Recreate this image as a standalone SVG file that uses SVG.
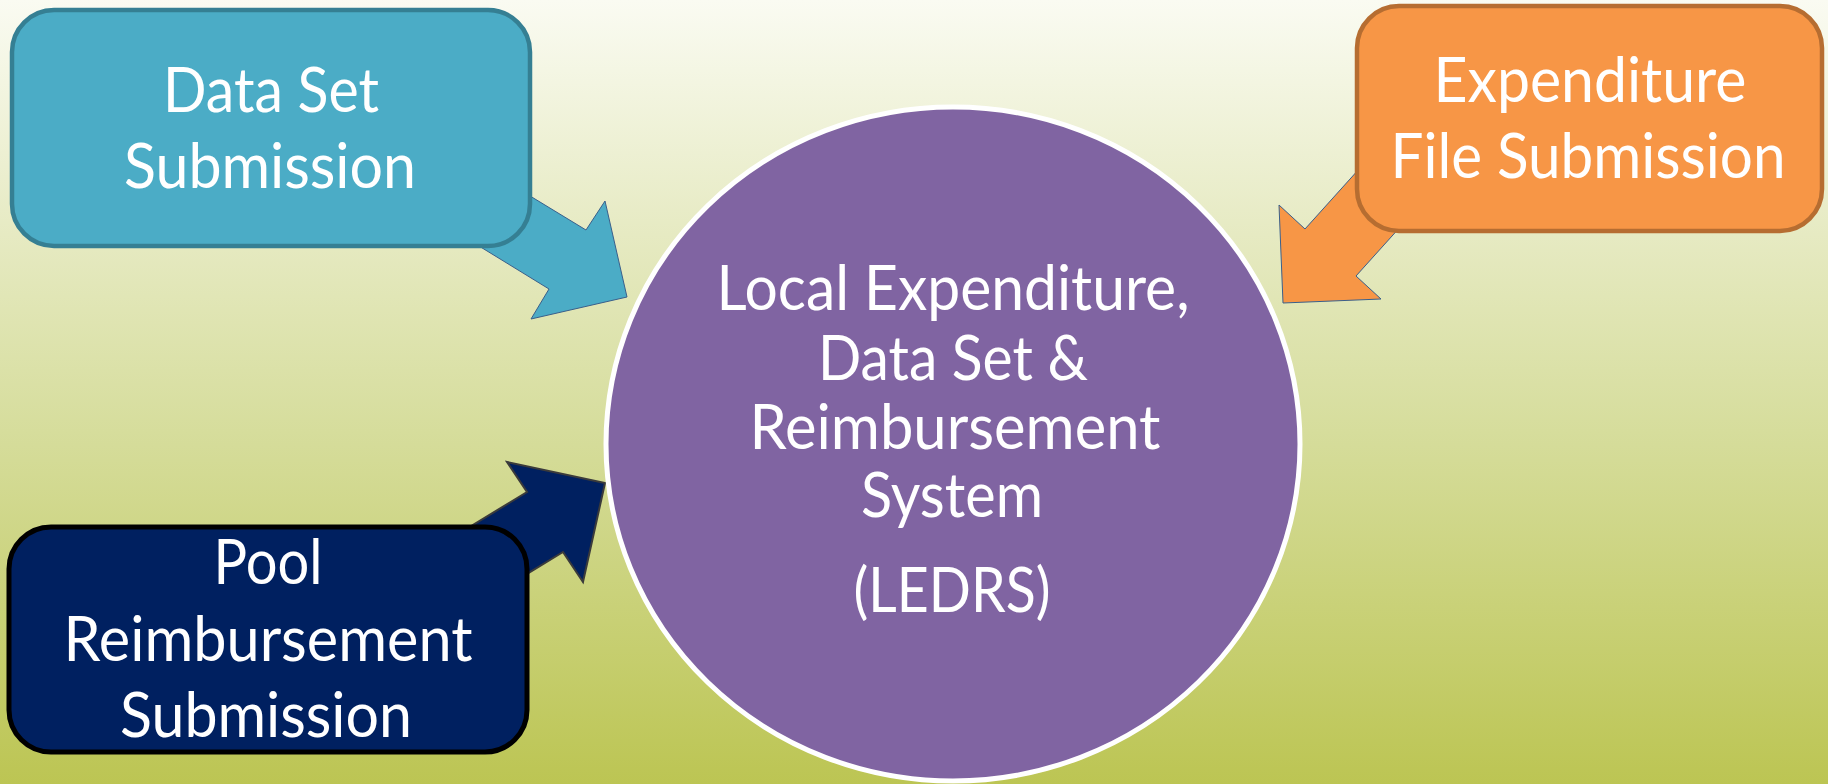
<svg xmlns="http://www.w3.org/2000/svg" width="1828" height="784" viewBox="0 0 1828 784">
<defs>
<linearGradient id="bg" x1="0" y1="0" x2="0" y2="1">
<stop offset="0" stop-color="#FAFBF2"/>
<stop offset="0.3" stop-color="#E6EAC2"/>
<stop offset="0.55" stop-color="#D6DD9C"/>
<stop offset="1" stop-color="#BCC553"/>
</linearGradient>
<style>
.lbl{font-family:Lato,"Open Sans","Liberation Sans",sans-serif;font-size:61px;fill:#FFFFFF;text-anchor:middle}
.box{stroke-width:4.5}
</style>
</defs>
<rect x="0" y="0" width="1828" height="784" fill="url(#bg)"/>
<g id="connectors">
<polygon id="arrow-dataset" points="415,126 586,230 605,201 627,297 531,319 549,289 378,184" fill="#4BACC6" stroke="#3A5F8B" stroke-width="1"/>
<polygon id="arrow-expenditure" points="1405,118 1305,229 1279,205 1283,303 1381,299 1356,276 1456,165" fill="#F79646" stroke="#3A5F8B" stroke-width="1"/>
<polygon id="arrow-pool" points="399,570 527,492 507,462 605,483 583,582 563,552 435,630" fill="#002060" stroke="#3B3B3B" stroke-width="2"/>
</g>
<g id="node-dataset">
<rect class="box" x="12" y="10" width="518" height="236" rx="42" ry="42" fill="#4BACC6" stroke="#357F93"/>
<text class="lbl" x="271" y="112" textLength="216" lengthAdjust="spacingAndGlyphs">Data Set</text>
<text class="lbl" x="270" y="188" textLength="292" lengthAdjust="spacingAndGlyphs">Submission</text>
</g>
<g id="node-expenditure">
<rect class="box" x="1357" y="6" width="465" height="225" rx="42" ry="42" fill="#F79646" stroke="#B66D31"/>
<text class="lbl" x="1590" y="102" textLength="313" lengthAdjust="spacingAndGlyphs">Expenditure</text>
<text class="lbl" x="1588" y="178" textLength="395" lengthAdjust="spacingAndGlyphs">File Submission</text>
</g>
<g id="node-pool">
<rect x="9" y="527" width="518" height="225" rx="42" ry="42" fill="#002060" stroke="#000000" stroke-width="5"/>
<text class="lbl" x="268" y="584" textLength="109" lengthAdjust="spacingAndGlyphs">Pool</text>
<text class="lbl" x="268" y="661" textLength="409" lengthAdjust="spacingAndGlyphs">Reimbursement</text>
<text class="lbl" x="266" y="737" textLength="292" lengthAdjust="spacingAndGlyphs">Submission</text>
</g>
<g id="node-ledrs">
<ellipse cx="953" cy="444" rx="347" ry="337" fill="#8064A2" stroke="#FFFFFF" stroke-width="5"/>
<text class="lbl" x="953" y="310" textLength="473" lengthAdjust="spacingAndGlyphs">Local Expenditure,</text>
<text class="lbl" x="953" y="380" textLength="270" lengthAdjust="spacingAndGlyphs">Data Set &amp;</text>
<text class="lbl" x="955" y="449" textLength="411" lengthAdjust="spacingAndGlyphs">Reimbursement</text>
<text class="lbl" x="952" y="517" textLength="182" lengthAdjust="spacingAndGlyphs">System</text>
<text class="lbl" x="952" y="612" textLength="197" lengthAdjust="spacingAndGlyphs">(LEDRS)</text>
</g>
</svg>
